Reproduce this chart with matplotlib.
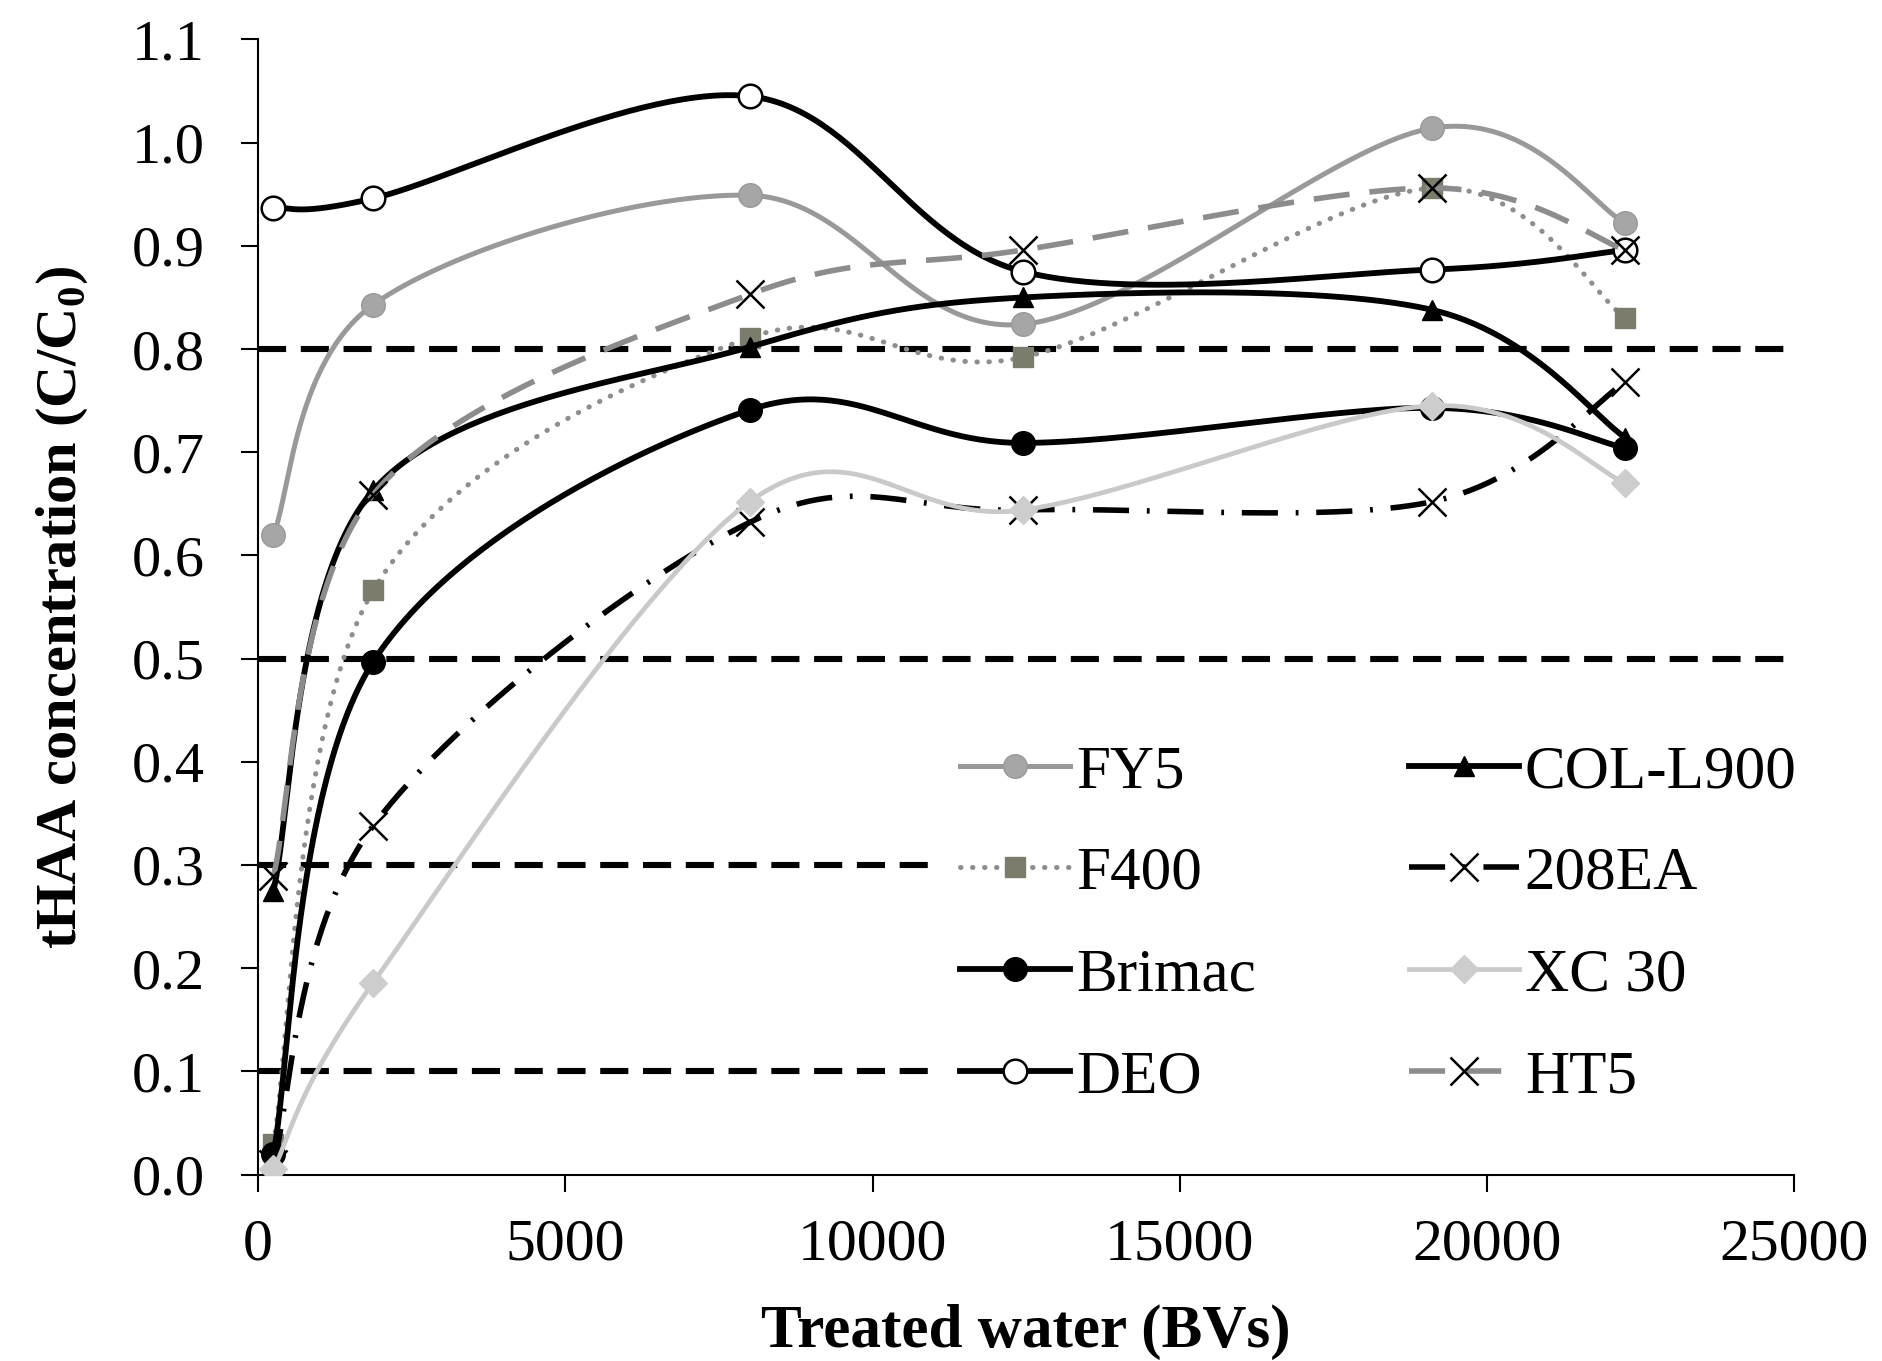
import numpy as np
import matplotlib
matplotlib.use("Agg")
import matplotlib.pyplot as plt
from matplotlib.lines import Line2D

# Agua tratada (BVs) en cada muestreo
bv = [250, 1875, 8000, 12450, 19100, 22250]

# Concentracion relativa de tHAA (C/C0) para cada carbon
fy5 = [0.620, 0.843, 0.949, 0.824, 1.014, 0.922]
f400 = [0.030, 0.566, 0.811, 0.792, 0.956, 0.830]
brimac = [0.020, 0.497, 0.741, 0.709, 0.743, 0.704]
deo = [0.937, 0.946, 1.045, 0.875, 0.877, 0.896]
col_l900 = [0.275, 0.663, 0.802, 0.850, 0.838, 0.714]
ea208 = [0.010, 0.338, 0.632, 0.644, 0.652, 0.768]
xc30 = [0.005, 0.186, 0.652, 0.644, 0.745, 0.670]
ht5 = [0.289, 0.659, 0.853, 0.896, 0.956, 0.896]

nombres = ["FY5", "F400", "Brimac", "DEO", "COL-L900", "208EA", "XC 30", "HT5"]
series = [fy5, f400, brimac, deo, col_l900, ea208, xc30, ht5]

# Niveles de referencia (lineas discontinuas)
limites = [0.8, 0.5, 0.3, 0.1]

plt.rcParams["font.family"] = ["Liberation Serif", "DejaVu Serif"]
plt.rcParams["mathtext.fontset"] = "custom"
plt.rcParams["mathtext.rm"] = "Liberation Serif"
plt.rcParams["mathtext.bf"] = "Liberation Serif:bold"

estilos = {
    "FY5": dict(color="#999999", lw=3.6, ls="-", marker="o", ms=17,
                mfc="#a6a6a6", mec="#999999"),
    "F400": dict(color="#8e8e8e", lw=3.6, ls=(0, (0.1, 2.3)), dash_capstyle="round",
                 marker="s", ms=15, mfc="#7c7c6c", mec="#7c7c6c"),
    "Brimac": dict(color="black", lw=4.2, ls="-", marker="o", ms=17,
                   mfc="black", mec="black"),
    "DEO": dict(color="black", lw=4.2, ls="-", marker="o", ms=17,
                mfc="white", mec="black", mew=1.8),
    "COL-L900": dict(color="black", lw=4.2, ls="-", marker="^", ms=15,
                     mfc="black", mec="black"),
    "208EA": dict(color="black", lw=4.0, ls=(0, (6.5, 3.2, 0.5, 3.2)), marker="x",
                  ms=20, mew=1.8, mec="black"),
    "XC 30": dict(color="#c9c9c9", lw=3.4, ls="-", marker="D", ms=14,
                  mfc="#cdcdcd", mec="#cdcdcd"),
    "HT5": dict(color="#8c8c8c", lw=4.0, ls=(0, (6.5, 3.6)), marker="x", ms=20,
                mew=1.8, mec="black"),
}


# Curva suavizada tipo Excel (Bezier cubica con tangentes de Catmull-Rom)
def suavizado(xi, yi, n=60):
    p = np.column_stack([xi, yi]).astype(float)
    m = len(p)
    t = np.linspace(0, 1, n, endpoint=False)[:, None]
    tramos = []
    for i in range(m - 1):
        p0 = p[max(i - 1, 0)]
        p3 = p[min(i + 2, m - 1)]
        c1 = p[i] + (p[i + 1] - p0) / 6
        c2 = p[i + 1] - (p3 - p[i]) / 6
        b = ((1 - t) ** 3) * p[i] + 3 * ((1 - t) ** 2) * t * c1 \
            + 3 * (1 - t) * t ** 2 * c2 + t ** 3 * p[i + 1]
        tramos.append(b)
    tramos.append(p[-1:])
    curva = np.vstack(tramos)
    marcas = list(range(0, n * (m - 1) + 1, n))
    return curva[:, 0], curva[:, 1], marcas


fig = plt.figure(figsize=(18.83, 13.61), dpi=100)
ax = fig.add_axes([0.137, 0.137, 0.816, 0.834])

for y in limites:
    ax.axhline(y, color="black", lw=4.4, ls=(0, (4.6, 2.4)), zorder=1)

manejadores = []
for nombre, yi in zip(nombres, series):
    cx, cy, marcas = suavizado(bv, yi)
    ax.plot(cx, cy, markevery=marcas, zorder=3, **estilos[nombre])
    manejadores.append(Line2D([], [], **estilos[nombre]))

ax.set_xlim(0, 25000)
ax.set_ylim(0, 1.1)
ax.set_xticks([0, 5000, 10000, 15000, 20000, 25000])
ax.set_yticks(np.arange(0, 1.11, 0.1))
ax.yaxis.set_major_formatter(plt.FormatStrFormatter("%.1f"))

for lado in ["top", "right"]:
    ax.spines[lado].set_visible(False)
for lado in ["left", "bottom"]:
    ax.spines[lado].set_linewidth(1.5)

ax.tick_params(axis="both", direction="out", length=12, width=1.5, labelsize=42)
ax.tick_params(axis="y", pad=26)
ax.tick_params(axis="x", pad=20, labelsize=43)

ax.set_xlabel("Treated water (BVs)", fontsize=44, fontweight="bold", labelpad=22)
ax.set_ylabel(r"tHAA concentration (C/C$_\mathbf{0}$)", fontsize=42,
              fontweight="bold", labelpad=30)

leg = ax.legend(manejadores, nombres, ncol=2, loc="upper left",
                bbox_to_anchor=(0.425, 0.422), fontsize=44, numpoints=1,
                handlelength=1.8, handletextpad=0.1, columnspacing=2.5,
                labelspacing=0.75, borderpad=0.3, frameon=True, fancybox=False)
leg.get_frame().set_facecolor("white")
leg.get_frame().set_edgecolor("white")
leg.get_frame().set_alpha(1)
leg.set_zorder(5)

fig.savefig("out.png", dpi=100)
